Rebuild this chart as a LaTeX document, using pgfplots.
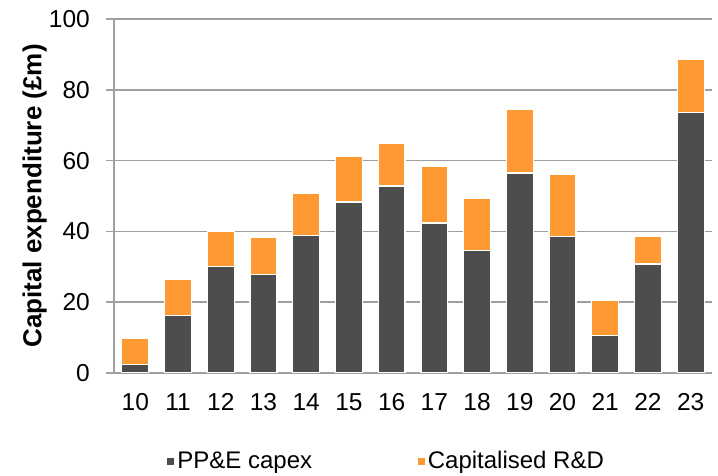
\documentclass[border=0pt]{standalone}
\usepackage{fontspec}
\setmainfont{Liberation Sans}
\usepackage{pgfplots}
\pgfplotsset{compat=1.18}
\usetikzlibrary{calc}
\definecolor{dark}{HTML}{4D4D4D}
\definecolor{orng}{HTML}{FF9933}
\definecolor{gridc}{HTML}{A0A0A0}
\begin{document}
\fontsize{24}{28}\selectfont
\begin{tikzpicture}
\begin{axis}[
  name=ax,
  scale only axis,
  width=598pt, height=354pt,
  xmin=-0.5, xmax=13.5,
  ymin=0, ymax=100,
  ybar stacked,
  bar width=0.63,
  xtick={0,...,13},
  xticklabels={10,11,12,13,14,15,16,17,18,19,20,21,22,23},
  ytick={0,20,40,60,80,100},
  axis x line=bottom,
  axis y line=left,
  axis line style={gridc, line width=1.5pt, -},
  x axis line style={-},
  y axis line style={-},
  ymajorgrids,
  major grid style={gridc, line width=1.5pt},
  xtick style={draw=none},
  ytick style={gridc, line width=1.5pt},
  tick align=outside,
  major tick length=8pt,
  /pgf/number format/assume math mode=true,
  ticklabel style={font=\fontsize{24.5}{28}\selectfont},
  yticklabel style={xshift=-8pt},
  xticklabel style={yshift=-4pt},
  ylabel={\bfseries Capital expenditure (£m)},
  ylabel style={font=\fontsize{26}{28}\selectfont},
  ylabel shift=-14pt,
  legend style={at={(0.455,-0.251)}, anchor=center, draw=none, fill=none,
    legend columns=2, font=\fontsize{24}{28}\selectfont,
    /tikz/every even column/.append style={column sep=3.6cm}},
  legend image code/.code={\fill[#1] (0pt,-4pt) rectangle (8pt,4pt);},
  every axis plot/.append style={draw=white, line width=1.2pt},
]
\addplot[fill=dark] coordinates {(0,2.5) (1,16.2) (2,30.1) (3,27.8) (4,38.9) (5,48.3) (6,52.8) (7,42.4) (8,34.7) (9,56.5) (10,38.6) (11,10.7) (12,30.8) (13,73.6)};
\addplot[fill=orng] coordinates {(0,7.2) (1,10.2) (2,9.8) (3,10.6) (4,11.8) (5,12.9) (6,12.1) (7,15.9) (8,14.6) (9,18.1) (10,17.4) (11,9.9) (12,7.9) (13,15.1)};
\legend{PP\&E capex, Capitalised R\&D}
\end{axis}
\pgfresetboundingbox
\path[use as bounding box] ($(ax.south west)+(-114pt,-103pt)$) rectangle ($(ax.south west)+(604pt,373pt)$);
\end{tikzpicture}
\end{document}
